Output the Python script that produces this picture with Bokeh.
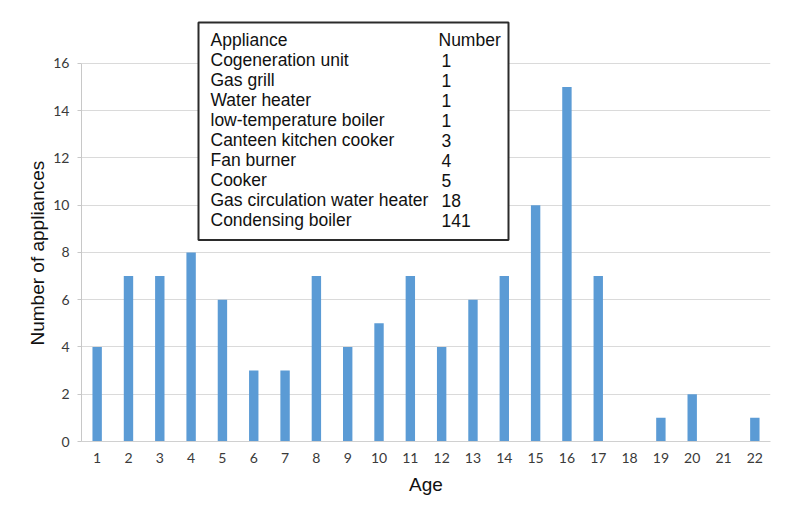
from bokeh.plotting import figure
from bokeh.models import Range1d, FixedTicker, BoxAnnotation, Label, Title
from bokeh.embed import file_html
from bokeh.resources import INLINE

# ---- data ----
ages = list(range(1, 23))
counts = [4, 7, 7, 8, 6, 3, 3, 7, 4, 5, 7, 4, 6, 7, 10, 15, 7, 0, 1, 2, 0, 1]
y_ticks = [0, 2, 4, 6, 8, 10, 12, 14, 16]

appliances = ["Cogeneration unit", "Gas grill", "Water heater", "low-temperature  boiler",
              "Canteen kitchen cooker", "Fan burner", "Cooker",
              "Gas circulation water heater", "Condensing  boiler"]
appliance_numbers = [1, 1, 1, 1, 3, 4, 5, 18, 141]

W, H = 771, 497
ML, MR, MT, MB = 81, 1, 16, 55
FW, FH = W - ML - MR, H - MT - MB
XMIN, XMAX, YMIN, YMAX = 0.5, 22.5, 0, 16
Y16 = 63                                  # pixel row of the 16 gridline
PX_PER_Y = (H - MB - Y16) / (YMAX - YMIN)
YTOP = YMAX + (Y16 - MT) / PX_PER_Y       # frame extends above the 16 gridline to host the table

p = figure(width=W, height=H, output_backend="svg", toolbar_location=None,
           x_range=Range1d(XMIN, XMAX), y_range=Range1d(YMIN, YTOP),
           min_border_left=ML, min_border_right=MR, min_border_top=MT, min_border_bottom=MB)
p.outline_line_color = None
p.background_fill_color = "white"
p.border_fill_color = "white"

p.vbar(x=ages, top=counts, width=0.3, fill_color="#5B9BD5", line_color=None)

# axes
p.xaxis.ticker = FixedTicker(ticks=ages)
p.yaxis.ticker = FixedTicker(ticks=y_ticks)
p.yaxis.bounds = (YMIN, YMAX)
p.xgrid.grid_line_color = None
p.ygrid.grid_line_color = "#DADADA"
p.ygrid.grid_line_width = 1

p.xaxis.axis_label = "Age"
for ax in (p.xaxis[0], p.yaxis[0]):
    ax.axis_label_text_font = "Liberation Sans"
    ax.axis_label_text_font_size = "19px"
    ax.axis_label_text_font_style = "normal"
    ax.axis_label_text_color = "#111111"
    ax.major_label_text_font = "Lato"
    ax.major_label_text_font_size = "14px"
    ax.major_label_text_color = "#3a3a3a"
    ax.minor_tick_line_color = None
    ax.major_tick_in = 0

p.xaxis.axis_line_color = "#D0D0D0"
p.xaxis.major_tick_line_color = None
p.xaxis.major_tick_out = 0
p.xaxis.major_label_standoff = 11
p.xaxis.axis_label_standoff = 8

p.yaxis.axis_line_color = "#C8C8C8"
p.yaxis.major_tick_line_color = "#C8C8C8"
p.yaxis.major_tick_out = 4
p.yaxis.major_label_standoff = 8

# y-axis title (as a side title so it can be centred on the 0..16 part of the axis)
ytitle = Title(text="Number of appliances", align="left", offset=96, standoff=6,
               text_font="Liberation Sans", text_font_size="19px",
               text_font_style="normal", text_color="#111111")
p.add_layout(ytitle, "left")


# helpers: picture pixel -> data coordinates
def dx(px):
    return XMIN + (px - ML) * (XMAX - XMIN) / FW


def dy(py):
    return YMAX - (py - Y16) / PX_PER_Y


# table box
box = BoxAnnotation(left=dx(198), right=dx(508), top=dy(22), bottom=dy(240),
                    fill_color="white", fill_alpha=1.0,
                    line_color="#2b2b2b", line_alpha=1.0, line_width=2)
p.add_layout(box)

font = "Liberation Sans"
fs = "17.5px"
tc = "#111111"
p.add_layout(Label(x=dx(210), y=dy(40), text="Appliance", text_font=font, text_font_size=fs,
                   text_baseline="middle", text_align="left", text_color=tc))
p.add_layout(Label(x=dx(438), y=dy(40), text="Number", text_font=font, text_font_size=fs,
                   text_baseline="middle", text_align="left", text_color=tc))
# underline of header
p.segment(x0=[dx(210)], y0=[dy(49)], x1=[dx(498)], y1=[dy(49)], line_color=tc, line_width=1.2)

for i, (name, n) in enumerate(zip(appliances, appliance_numbers)):
    yy = dy(60 + 20 * i)
    p.add_layout(Label(x=dx(210), y=yy, text=name, text_font=font, text_font_size=fs,
                       text_baseline="middle", text_align="left", text_color=tc))
    p.add_layout(Label(x=dx(441), y=yy, text=str(n), text_font=font, text_font_size=fs,
                       text_baseline="middle", text_align="left", text_color=tc))

open("out.html", "w").write(file_html(p, INLINE))
